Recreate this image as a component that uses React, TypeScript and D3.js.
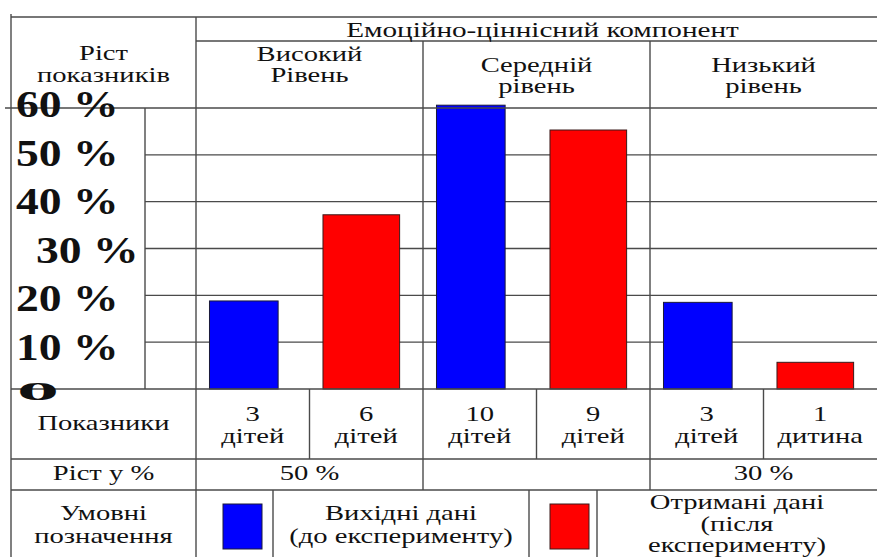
import { useMemo } from 'react';
import * as d3 from 'd3';

// рівні сформованості
const levels = ['Високий', 'Середній', 'Низький'];
const levelSecondLine = ['Рівень', 'рівень', 'рівень'];
const series = ['before', 'after'];

// значення у %, зчитані з діаграми
const beforeValues = [18.8, 60.6, 18.5];
const afterValues = [37.2, 55.3, 5.7];

const beforeCounts = ['3', '10', '3'];
const afterCounts = ['6', '9', '1'];
const beforeUnits = ['дітей', 'дітей', 'дітей'];
const afterUnits = ['дітей', 'дітей', 'дитина'];
const growthLabels = ['50 %', '', '30 %'];

const yTicks = [60, 50, 40, 30, 20, 10];
const yTickLabels = ['60 %', '50 %', '40 %', '30 %', '20 %', '10 %'];

const W = 877;
const H = 557;
const left = 11;
const axisX = 145;
const colLeft = 196;
const top = 17;
const headerLine = 41;
const chartTop = 108;
const zeroY = 389;
const row1 = 459;
const row2 = 490;

const lineColor = '#4a4a4a';
const font = 'Liberation Serif';

type TProps = {
    x: number;
    y: number;
    children: any;
    size?: number;
    sx?: number;
    sy?: number;
    weight?: string;
    anchor?: string;
};

// текст у оригіналі "розтягнутий" по горизонталі
const T = ({ x, y, children, size = 20, sx = 1.43, sy = 1, weight = 'normal', anchor = 'middle' }: TProps) => (
    <text
        transform={`translate(${x},${y}) scale(${sx},${sy})`}
        textAnchor={anchor}
        style={{ fontFamily: font, fontSize: size, fontWeight: weight }}
        fill="#111"
    >
        {children}
    </text>
);

const Line = ({ x1, y1, x2, y2 }: { x1: number; y1: number; x2: number; y2: number }) => (
    <line x1={x1} y1={y1} x2={x2} y2={y2} stroke={lineColor} strokeWidth={1.4} />
);

export default function App() {
    const yScale = useMemo(() => d3.scaleLinear().domain([0, 60]).range([zeroY, chartTop]), []);
    // підписи осі трохи "розбігаються" від ліній сітки
    const labelY = useMemo(() => d3.scaleLinear().domain([10, 60]).range([360, 117]), []);

    const xLevel = useMemo(() => d3.scaleBand().domain(levels).range([colLeft, W]).padding(0), []);
    const xSeries = useMemo(
        () => d3.scaleBand().domain(series).range([0, xLevel.bandwidth()]).paddingInner(0.36).paddingOuter(0.18).align(0.33),
        [xLevel]
    );

    const groupW = xLevel.bandwidth();

    return (
        <svg
            width={W}
            height={H}
            style={{ position: 'absolute', left: 0, top: 0, background: '#fff' }}
        >
            <rect width={W} height={H} fill="#fff" />

            {/* сітка */}
            {yTicks.slice(1).map((v) => (
                <Line key={v} x1={axisX} y1={yScale(v)} x2={W} y2={yScale(v)} />
            ))}

            {/* стовпчики */}
            {levels.map((lv, i) => {
                const gx = xLevel(lv) || 0;
                return (
                    <g key={lv}>
                        <rect
                            x={gx + (xSeries('before') || 0)}
                            y={yScale(beforeValues[i])}
                            width={xSeries.bandwidth() - 4}
                            height={zeroY - yScale(beforeValues[i])}
                            fill="#0000ff"
                            stroke="#1a1a3a"
                            strokeWidth={1}
                        />
                        <rect
                            x={gx + (xSeries('after') || 0)}
                            y={yScale(afterValues[i])}
                            width={xSeries.bandwidth() + 4}
                            height={zeroY - yScale(afterValues[i])}
                            fill="#ff0000"
                            stroke="#3a1a1a"
                            strokeWidth={1}
                        />
                    </g>
                );
            })}

            {/* рамки таблиці */}
            <Line x1={left} y1={top} x2={W} y2={top} />
            <Line x1={left} y1={top - 3} x2={left} y2={H} />
            <Line x1={colLeft} y1={top} x2={colLeft} y2={H} />
            <Line x1={colLeft} y1={headerLine} x2={W} y2={headerLine} />
            <Line x1={left - 6} y1={chartTop} x2={W} y2={chartTop} />
            <Line x1={axisX} y1={chartTop} x2={axisX} y2={zeroY} />
            <Line x1={left} y1={zeroY} x2={W} y2={zeroY} />
            <Line x1={left} y1={row1} x2={W} y2={row1} />
            <Line x1={left} y1={row2} x2={W} y2={row2} />
            {levels.slice(1).map((lv) => (
                <Line key={lv} x1={xLevel(lv) || 0} y1={headerLine} x2={xLevel(lv) || 0} y2={row2} />
            ))}
            {levels.map((lv) => (
                <Line
                    key={'s' + lv}
                    x1={(xLevel(lv) || 0) + groupW / 2}
                    y1={zeroY}
                    x2={(xLevel(lv) || 0) + groupW / 2}
                    y2={row1}
                />
            ))}
            {/* легенда */}
            <Line x1={273} y1={row2} x2={273} y2={H} />
            <Line x1={529} y1={row2} x2={529} y2={H} />
            <Line x1={597} y1={row2} x2={597} y2={H} />
            <rect x={223} y={504} width={39} height={45} fill="#0000ff" stroke="#1a1a3a" strokeWidth={1} />
            <rect x={550} y={504} width={39} height={45} fill="#ff0000" stroke="#3a1a1a" strokeWidth={1} />

            {/* заголовки */}
            <T x={(colLeft + W) / 2 + 6} y={37} sx={1.46}>Емоційно-ціннісний компонент</T>
            <T x={(left + colLeft) / 2} y={60}>Ріст</T>
            <T x={(left + colLeft) / 2} y={82}>показників</T>
            {levels.map((lv, i) => {
                const cx = (xLevel(lv) || 0) + groupW / 2;
                const y0 = i === 0 ? 61 : 72;
                return (
                    <g key={'h' + lv}>
                        <T x={cx} y={y0}>{lv}</T>
                        <T x={cx} y={y0 + 21}>{levelSecondLine[i]}</T>
                    </g>
                );
            })}

            {/* вісь Y */}
            {yTicks.map((v, i) => (
                <T key={v} x={v === 30 ? 36 : 16} y={labelY(v)} size={38} sx={1.2} weight="bold" anchor="start">
                    {yTickLabels[i]}
                </T>
            ))}
            <T x={38} y={400} size={42} sx={2.0} sy={0.6} weight="bold">0</T>

            {/* рядок "Показники" */}
            <T x={(left + colLeft) / 2} y={430}>Показники</T>
            {levels.map((lv, i) => {
                const gx = xLevel(lv) || 0;
                const c1 = gx + groupW / 4;
                const c2 = gx + (groupW * 3) / 4;
                return (
                    <g key={'c' + lv}>
                        <T x={c1} y={421}>{beforeCounts[i]}</T>
                        <T x={c1} y={443}>{beforeUnits[i]}</T>
                        <T x={c2} y={421}>{afterCounts[i]}</T>
                        <T x={c2} y={443}>{afterUnits[i]}</T>
                    </g>
                );
            })}

            {/* рядок "Ріст у %" */}
            <T x={(left + colLeft) / 2} y={480}>Ріст у %</T>
            {levels.map((lv, i) => (
                <T key={'g' + lv} x={(xLevel(lv) || 0) + groupW / 2} y={480}>{growthLabels[i]}</T>
            ))}

            {/* легенда */}
            <T x={(left + colLeft) / 2} y={520}>Умовні</T>
            <T x={(left + colLeft) / 2} y={543}>позначення</T>
            <T x={401} y={520}>Вихідні дані</T>
            <T x={401} y={543}>(до експерименту)</T>
            <T x={737} y={509}>Отримані дані</T>
            <T x={737} y={531}>(після</T>
            <T x={737} y={552}>експерименту)</T>
        </svg>
    );
}
